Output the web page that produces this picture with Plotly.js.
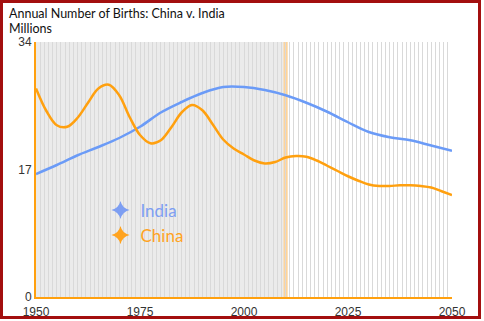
<!DOCTYPE html>
<html>
<head>
<meta charset="utf-8">
<script src="https://cdn.plot.ly/plotly-3.0.1.min.js"></script>
<style>
  html, body { margin: 0; padding: 0; background: #fff; }
  #wrap { position: relative; width: 484px; height: 321px; }
  #chart { position: absolute; left: 0; top: 0; width: 484px; height: 321px; }
  #frame { position: absolute; left: 0; top: 0; width: 481px; height: 319px; box-sizing: border-box; border: 3px solid #a30f0f; pointer-events: none; }
</style>
</head>
<body>
<div id="wrap">
  <div id="chart"></div>
  <div id="frame"></div>
</div>
<script>
// Data (millions of births)
var indiaYears = [1950, 1955, 1960, 1965, 1970, 1975, 1980, 1985, 1990, 1995, 2000, 2005, 2010, 2015, 2020, 2025, 2030, 2035, 2040, 2045, 2050];
var indiaBirths = [16.4, 17.6, 18.9, 20.0, 21.2, 22.7, 24.6, 26.0, 27.2, 28.0, 28.0, 27.6, 26.9, 25.9, 24.7, 23.3, 22.0, 21.3, 20.9, 20.2, 19.5];

var chinaYears = [1950, 1952.5, 1955, 1957.5, 1960, 1962.5, 1965, 1967.5, 1970, 1972.5, 1975, 1977.5, 1980, 1982.5, 1985, 1987.5, 1990, 1992.5, 1995, 1997.5, 2000, 2002.5, 2005, 2007.5, 2010, 2012.5, 2015, 2017.5, 2020, 2022.5, 2025, 2027.5, 2030, 2032.5, 2035, 2037.5, 2040, 2042.5, 2045, 2047.5, 2050];
var chinaBirths = [27.8, 24.8, 22.9, 22.7, 23.9, 25.9, 27.8, 28.3, 26.9, 24.0, 21.6, 20.5, 20.9, 22.6, 24.6, 25.6, 24.9, 23.0, 21.0, 19.8, 19.0, 18.2, 17.8, 18.0, 18.6, 18.8, 18.7, 18.2, 17.5, 16.8, 16.1, 15.5, 15.0, 14.8, 14.8, 14.9, 14.9, 14.8, 14.6, 14.1, 13.6];

var yTicks = [0, 17, 34];
var xTicks = [1950, 1975, 2000, 2025, 2050];
var historyEnd = 2010;
var titleLines = ['Annual Number of Births: China v. India', 'Millions'];

var indiaColor = '#6b9bf7';
var chinaColor = '#ffa00f';

var traces = [
  {x: indiaYears, y: indiaBirths, mode: 'lines', line: {color: indiaColor, width: 2.5, shape: 'spline', smoothing: 1}, showlegend: false, hoverinfo: 'x+y'},
  {x: chinaYears, y: chinaBirths, mode: 'lines', line: {color: chinaColor, width: 2.5, shape: 'spline', smoothing: 1}, showlegend: false, hoverinfo: 'x+y'},
  {x: [null], y: [null], mode: 'markers', name: '<span style="color:#7d9ef2">India</span>', marker: {symbol: 'star-diamond', size: 13, color: '#7d9ef2'}},
  {x: [null], y: [null], mode: 'markers', name: '<span style="color:#ffa31f">China</span>', marker: {symbol: 'star-diamond', size: 13, color: '#ffa31f'}}
];

var titleFont = {family: 'Lato, sans-serif', size: 12.5, color: '#111'};

var layout = {
  width: 484, height: 321,
  margin: {l: 36, r: 32, t: 42, b: 24},
  paper_bgcolor: 'rgba(0,0,0,0)',
  plot_bgcolor: '#ffffff',
  font: {family: 'Liberation Sans, Arial, sans-serif', size: 12, color: '#333'},
  annotations: [
    {text: titleLines[0], xref: 'paper', yref: 'paper', x: (7 - 36) / 416, y: (297 - 14) / 255, xanchor: 'left', yanchor: 'middle', showarrow: false, font: titleFont},
    {text: titleLines[1], xref: 'paper', yref: 'paper', x: (7 - 36) / 416, y: (297 - 29) / 255, xanchor: 'left', yanchor: 'middle', showarrow: false, font: titleFont}
  ],
  xaxis: {
    range: [1950, 2050],
    tickmode: 'array', tickvals: xTicks, ticktext: xTicks.map(String),
    showgrid: false,
    minor: {dtick: 1, tick0: 1950, showgrid: true, gridcolor: '#d9d9d9', gridwidth: 1, ticks: ''},
    zeroline: false,
    showline: true, linecolor: '#ffa00f', linewidth: 2,
    ticks: '', ticklabelstandoff: 3, tickfont: {size: 12, color: '#333'},
    fixedrange: true
  },
  yaxis: {
    range: [0, 34],
    tickmode: 'array', tickvals: yTicks, ticktext: yTicks.map(String),
    showgrid: false, zeroline: false,
    showline: true, linecolor: '#ffa00f', linewidth: 2,
    ticks: '', tickfont: {size: 12, color: '#333'},
    fixedrange: true
  },
  shapes: [
    {type: 'rect', xref: 'x', yref: 'paper', x0: 1950, x1: historyEnd, y0: 0, y1: 1, fillcolor: '#ebebeb', line: {width: 0}, layer: 'below'},
    {type: 'rect', xref: 'x', yref: 'paper', x0: historyEnd - 0.5, x1: historyEnd + 0.5, y0: 0, y1: 1, fillcolor: '#fdd49c', line: {width: 0}, layer: 'between'}
  ],
  legend: {
    x: 0.155, y: 0.41, xanchor: 'left', yanchor: 'top',
    bgcolor: 'rgba(0,0,0,0)',
    font: {family: 'Lato, sans-serif', size: 17},
    itemwidth: 30
  },
  showlegend: true
};

Plotly.newPlot('chart', traces, layout, {displayModeBar: false, staticPlot: true});
</script>
</body>
</html>
